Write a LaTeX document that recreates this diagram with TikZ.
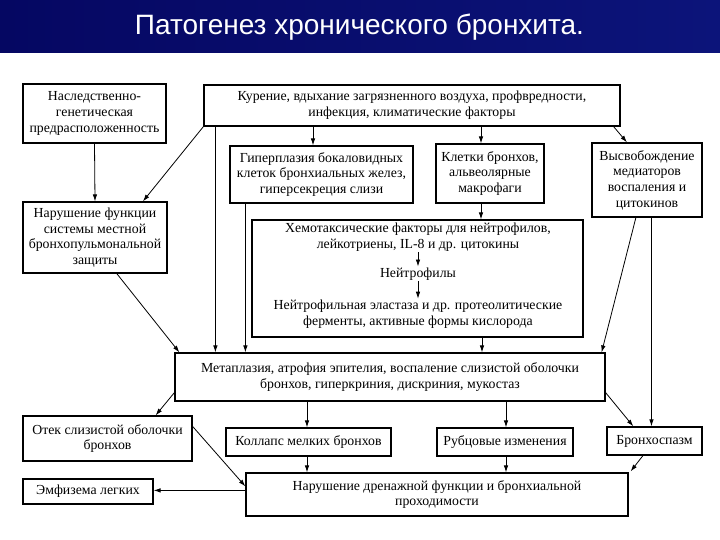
\documentclass[tikz,border=0pt]{standalone}
\usepackage{fontspec}
\setmainfont{Liberation Serif}
\newfontfamily\titlefont{Liberation Sans}
\usetikzlibrary{arrows.meta,calc}
\definecolor{barnavy}{RGB}{5,7,98}
\definecolor{barnavyR}{RGB}{12,20,122}
\tikzset{
  box/.style={draw=black, line width=1.2bp, fill=white, inner sep=0pt, align=center,
    font=\fontsize{13.8bp}{15.7bp}\selectfont},
  txt/.style={inner sep=1pt, align=center, font=\fontsize{13.8bp}{15.7bp}\selectfont},
  arr/.style={draw=black, line width=0.8bp, -{Latex[length=7bp,width=4.5bp]}},
  ttl/.style={text=white, font=\titlefont\fontsize{28bp}{31bp}\selectfont, inner sep=0pt}
}
\begin{document}
\begin{tikzpicture}[x=1bp,y=-1bp]
\useasboundingbox (0,0) rectangle (720,540);
\fill[white] (0,0) rectangle (720,540);
\shade[left color=barnavy, right color=barnavyR] (0,0) rectangle (720,53);
\node[ttl] (title) at (359.5,27) {Патогенез хронического бронхита.};

% boxes
\node[box, minimum width=143bp, minimum height=59bp] (nasl) at (94.5,113.5) {Наследственно-\\генетическая\\предрасположенность};
\node[box, minimum width=416bp, minimum height=41bp] (top) at (412,105.5) {Курение, вдыхание загрязненного воздуха, профвредности,\\инфекция, климатические факторы};
\node[box, minimum width=144bp, minimum height=71bp] (narush) at (95,237.5) {Нарушение функции\\системы местной\\бронхопульмональной\\защиты};
\node[box, minimum width=183bp, minimum height=57bp] (hyper) at (321.5,174.5) {Гиперплазия бокаловидных\\клеток бронхиальных желез,\\гиперсекреция слизи};
\node[box, minimum width=108bp, minimum height=59bp] (klet) at (490,173.5) {Клетки бронхов,\\альвеолярные\\макрофаги};
\node[box, minimum width=110bp, minimum height=74bp] (vysv) at (647,180) {Высвобождение\\медиаторов\\воспаления и\\цитокинов};
\node[box, minimum width=331bp, minimum height=117bp] (chem) at (417.5,278.5) {};
\node[txt] (chemA) at (418,237) {Хемотаксические факторы для нейтрофилов,\\лейкотриены, IL-8 и др. цитокины};
\node[txt] (neut) at (418,274) {Нейтрофилы};
\node[txt] (chemB) at (418,314) {Нейтрофильная эластаза и др. протеолитические\\ферменты, активные формы кислорода};
\node[box, minimum width=430bp, minimum height=48bp] (meta) at (390,377) {Метаплазия, атрофия эпителия, воспаление слизистой оболочки\\бронхов, гиперкриния, дискриния, мукостаз};
\node[box, minimum width=169bp, minimum height=45bp] (otek) at (107.5,438.5) {Отек слизистой оболочки\\бронхов};
\node[box, minimum width=165bp, minimum height=28bp] (koll) at (308.5,442) {Коллапс мелких бронхов};
\node[box, minimum width=136bp, minimum height=28bp] (rubc) at (505,442) {Рубцовые изменения};
\node[box, minimum width=95bp, minimum height=28bp] (bron) at (654.5,441) {Бронхоспазм};
\node[box, minimum width=382bp, minimum height=43bp] (drain) at (437,494.5) {Нарушение дренажной функции и бронхиальной\\проходимости};
\node[box, minimum width=130bp, minimum height=25bp] (emph) at (88,491.5) {Эмфизема легких};

% anchor points for connectors
\coordinate (tA) at ([xshift=12bp]top.south west);
\coordinate (tH) at ($(hyper.north)+(-8.5,0)$);
\coordinate (tK) at ($(klet.north)+(-9,0)$);
\coordinate (hB) at ([xshift=16bp]hyper.south west);
\coordinate (kB) at ($(klet.south)+(-9,0)$);
\coordinate (cB) at ($(chem.south)+(64.5,0)$);
\coordinate (vA) at ($(vysv.south west)!0.54!(vysv.south east)$);
\coordinate (mK) at ($(koll.north)+(-1.5,0)$);
\coordinate (mR) at ($(rubc.north)+(1,0)$);
\coordinate (kS) at ($(koll.south)+(-1.5,0)$);
\coordinate (rS) at ($(rubc.south)+(1,0)$);
\coordinate (dL) at ($(drain.north west)+(0,18)$);

% connectors
\draw[arr] (nasl.south) -- (narush.north);
\draw[arr] (top.south west) -- ($(narush.north west)!0.83!(narush.north east)$);
\draw[arr] (tA) -- (tA |- meta.north);
\draw[arr] (tH |- top.south) -- (tH);
\draw[arr] (tK |- top.south) -- (tK);
\draw[arr] ($(top.south east)+(-7,0)$) -- ($(vysv.north west)!0.32!(vysv.north east)$);
\draw[arr] (hB) -- (hB |- meta.north);
\draw[arr] (kB) -- (kB |- chem.north);
\draw[arr] (cB) -- (cB |- meta.north);
\draw[arr] (chemA) -- (neut);
\draw[arr] (neut) -- (chemB);
\draw[arr] ($(vysv.south west)!0.4!(vysv.south east)$) -- ($(meta.north east)+(-4,0)$);
\draw[arr] (vA) -- (vA |- bron.north);
\draw[arr] ($(narush.south west)!0.65!(narush.south east)$) -- ($(meta.north west)+(5,0)$);
\draw[arr] ($(meta.south west)+(0,-9)$) -- ($(otek.north east)+(-37,0)$);
\draw[arr] (mK |- meta.south) -- (mK);
\draw[arr] (mR |- meta.south) -- (mR);
\draw[arr] ($(meta.south east)+(0,-9)$) -- ($(bron.north west)!0.28!(bron.north east)$);
\draw[arr] (kS) -- (kS |- drain.north);
\draw[arr] (rS) -- (rS |- drain.north);
\draw[arr] ($(bron.south west)!0.38!(bron.south east)$) -- ($(drain.north east)+(2,-1)$);
\draw[arr] ($(otek.north east)+(0,11)$) -- ($(drain.north west)+(0,14)$);
\draw[arr] (dL) -- (dL -| emph.east);
\end{tikzpicture}
\end{document}
